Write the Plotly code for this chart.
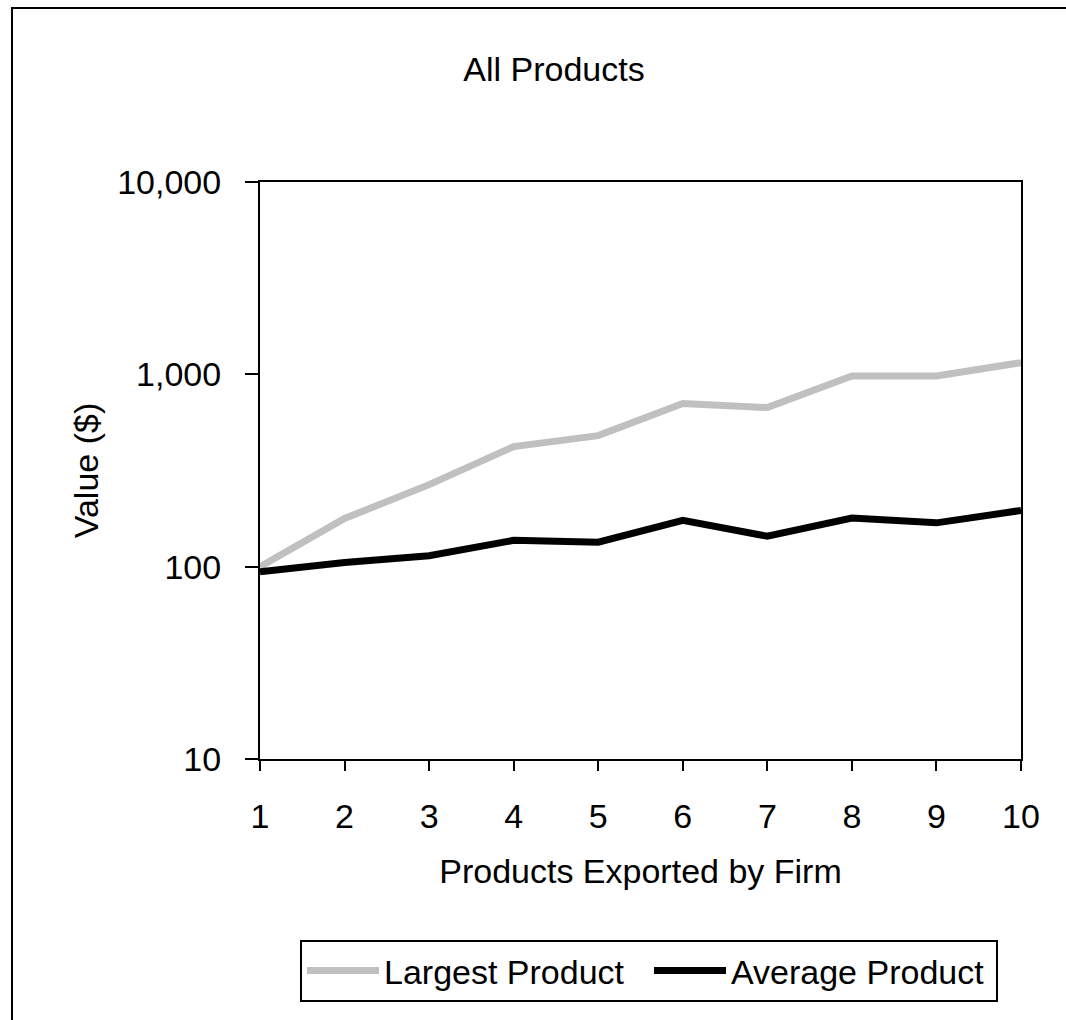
import plotly.graph_objects as go

products = [1, 2, 3, 4, 5, 6, 7, 8, 9, 10]
largest_product = [100, 178, 267, 421, 480, 705, 672, 980, 980, 1150]
average_product = [94, 105, 114, 137, 134, 174, 144, 179, 169, 196]
y_tickvals = [10, 100, 1000, 10000]
y_ticktext = ["10", "100", "1,000", "10,000"]

FONT = "Arial, Liberation Sans, Helvetica, sans-serif"

fig = go.Figure()
fig.add_trace(go.Scatter(x=products, y=largest_product, mode="lines", name="Largest Product",
                         line=dict(color="#C0C0C0", width=7)))
fig.add_trace(go.Scatter(x=products, y=average_product, mode="lines", name="Average Product",
                         line=dict(color="#000000", width=7)))

W, H = 1066, 1020
L, R, T, B = 260, 45, 182, 261
pw, ph = W - L - R, H - T - B

fig.update_layout(
    width=W, height=H,
    margin=dict(l=L, r=R, t=T, b=B, pad=0),
    paper_bgcolor="white", plot_bgcolor="white",
    font=dict(family=FONT, size=34, color="black"),
    title=dict(text="All Products", x=554 / W, xref="container", xanchor="center",
               y=1 - 69 / H, yref="container", yanchor="middle",
               font=dict(size=34, color="black")),
    showlegend=True,
    legend=dict(orientation="h", x=(300 - L) / pw, xanchor="left", xref="paper",
                y=(T + ph - 940) / ph, yanchor="top", yref="paper",
                bordercolor="black", borderwidth=2, bgcolor="white",
                itemwidth=72, entrywidth=260, entrywidthmode="pixels",
                font=dict(size=34, color="black")),
    xaxis=dict(range=[1, 10], tickvals=products, showgrid=False, zeroline=False,
               showline=True, linecolor="black", linewidth=2, mirror=True,
               ticks="outside", ticklen=10, tickwidth=2, tickcolor="black",
               tickfont=dict(size=34), ticklabelstandoff=16,
               title=dict(text="Products Exported by Firm", standoff=25, font=dict(size=34))),
    yaxis=dict(type="log", range=[1, 4], tickvals=y_tickvals, ticktext=y_ticktext,
               showgrid=False, zeroline=False,
               showline=True, linecolor="black", linewidth=2, mirror=True,
               ticks="outside", ticklen=13, tickwidth=2, tickcolor="black",
               tickfont=dict(size=34), ticklabelstandoff=17,
               title=dict(text="Value ($)", standoff=8, font=dict(size=34))),
)

# outer chart-area frame (extends past right/bottom edges as in the reference)
fig.add_shape(type="rect", xref="paper", yref="paper",
              x0=(12 - L) / pw, x1=(1100 - L) / pw,
              y0=(T + ph - 1060) / ph, y1=(T + ph - 8) / ph,
              line=dict(color="black", width=2), fillcolor="rgba(0,0,0,0)", layer="below")

fig.write_html("out.html", config={"displayModeBar": False},
               post_script="document.body.style.margin='0';")
